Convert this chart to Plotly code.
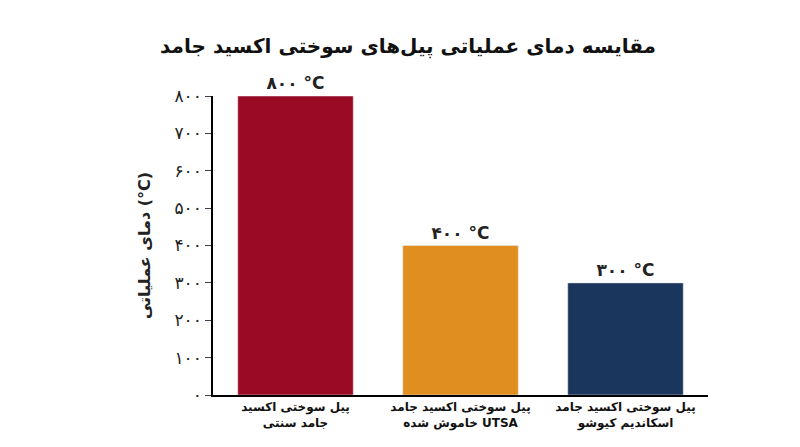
import plotly.graph_objects as go

# Data
categories = ["<b>پیل سوختی اکسید<br>جامد سنتی</b>", "<b>پیل سوختی اکسید جامد<br>خاموش شده UTSA</b>", "<b>پیل سوختی اکسید جامد<br>اسکاندیم کیوشو</b>"]
temps = [800, 400, 300]
bar_labels = ["<b>۸۰۰ °C</b>", "<b>۴۰۰ °C</b>", "<b>۳۰۰ °C</b>"]
colors = ["#9B0A24", "#E08E1F", "#1B365D"]
tick_vals = [0, 100, 200, 300, 400, 500, 600, 700, 800]
tick_text = ["۰", "۱۰۰", "۲۰۰", "۳۰۰", "۴۰۰", "۵۰۰", "۶۰۰", "۷۰۰", "۸۰۰"]

fig = go.Figure(go.Bar(
    x=categories, y=temps, marker_color=colors, width=0.7,
    text=bar_labels, textposition="outside", cliponaxis=False,
    textfont=dict(size=17, color="#222"),
))

fig.update_layout(
    width=800, height=447,
    font=dict(family="DejaVu Sans, Noto Sans", color="#222"),
    title=dict(text="<b>مقایسه دمای عملیاتی پیل‌های سوختی اکسید جامد</b>",
               x=0.5, y=0.93, xanchor="center", font=dict(size=20, color="#111")),
    margin=dict(l=205, r=100, t=88, b=60),
    plot_bgcolor="white", paper_bgcolor="white",
    showlegend=False, bargap=0.28,
)
fig.update_yaxes(
    range=[0, 800], tickvals=tick_vals, ticktext=tick_text,
    showline=True, linecolor="black", linewidth=1.5, ticks="outside", ticklen=6,
    showgrid=False, zeroline=False, tickfont=dict(size=17),
    title=dict(text="<b>دمای عملیاتی (°C)</b>", font=dict(size=16), standoff=20),
)
fig.update_xaxes(
    showline=True, linecolor="black", linewidth=1.5, ticks="",
    tickfont=dict(size=12, color="#111"),
)

fig.write_html("out.html")
